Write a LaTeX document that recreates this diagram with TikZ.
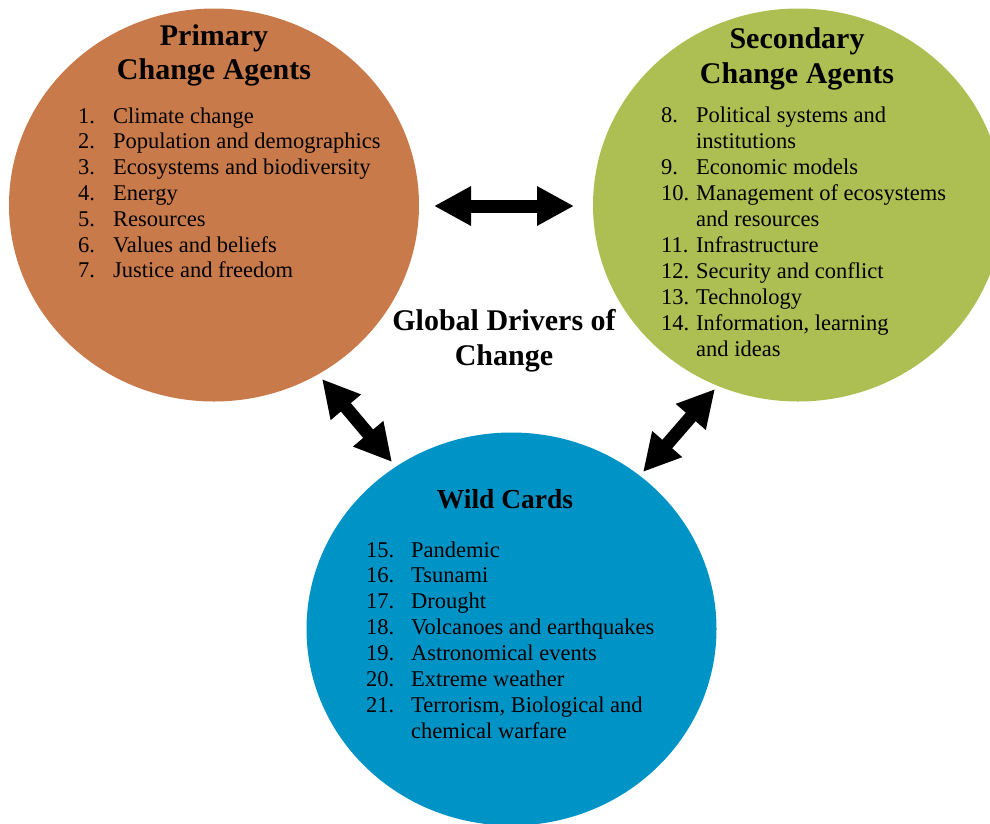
\documentclass[tikz,border=0pt]{standalone}
\usepackage{fontspec}
\setmainfont{Liberation Serif}
\usetikzlibrary{arrows.meta,shapes.geometric}
\definecolor{primcol}{RGB}{200,122,75}
\definecolor{seccol}{RGB}{173,191,82}
\definecolor{wildcol}{RGB}{0,148,198}
\begin{document}
\begin{tikzpicture}[x=1pt,y=-1pt,
 blob/.style={ellipse, inner sep=0pt, minimum width=410pt, minimum height=393pt},
 ttl/.style={font=\fontsize{30}{35}\selectfont\bfseries, anchor=base, inner sep=0pt},
 itm/.style={font=\fontsize{22.5}{26}\selectfont, anchor=base west, inner sep=0pt},
 dbl/.style={line width=13pt, {Triangle[length=37pt,width=37pt]}-{Triangle[length=37pt,width=37pt]}}
]
\useasboundingbox (0,0) rectangle (990,823);
\clip (0,0) rectangle (990,823);
\node[blob, fill=primcol] (prim) at (214,205) {};
\node[blob, fill=seccol] (sec) at (798,205) {};
\node[blob, fill=wildcol] (wild) at (511.5,629) {};

\node[ttl] (pt1) at (214,45) {Primary};
\node[ttl] (pt2) at (214,79) {Change Agents};
\node[ttl] (st1) at (797,48) {Secondary};
\node[ttl] (st2) at (797,83) {Change Agents};
\node[ttl, font=\fontsize{27.5}{32}\selectfont\bfseries] (wt1) at (505,508) {Wild Cards};
\node[ttl] (gt1) at (504,330) {Global Drivers of};
\node[ttl] (gt2) at (504,365) {Change};

\foreach \n/\t [count=\i from 0] in {1./Climate change, 2./Population and demographics, 3./Ecosystems and biodiversity, 4./Energy, 5./Resources, 6./Values and beliefs, 7./Justice and freedom}{
  \node[itm] (pn\i) at (78,{123+25.8*\i}) {\n};
  \node[itm] (pi\i) at (113,{123+25.8*\i}) {\t};
}
\foreach \n/\t [count=\i from 0] in {8./Political systems and, /institutions, 9./Economic models, 10./Management of ecosystems, /and resources, 11./Infrastructure, 12./Security and conflict, 13./Technology, 14./{Information, learning}, /and ideas}{
  \node[itm] (sn\i) at (661,{122+26*\i}) {\n};
  \node[itm] (si\i) at (696,{122+26*\i}) {\t};
}
\foreach \n/\t [count=\i from 0] in {15./Pandemic, 16./Tsunami, 17./Drought, 18./Volcanoes and earthquakes, 19./Astronomical events, 20./Extreme weather, 21./{Terrorism, Biological and}, /chemical warfare}{
  \node[itm] (wn\i) at (366,{557+25.9*\i}) {\n};
  \node[itm] (wi\i) at (411,{557+25.9*\i}) {\t};
}

\coordinate (h1) at (434,206);
\coordinate (h2) at (574,206);
\coordinate (l1) at (322,379);
\coordinate (l2) at (392,462);
\coordinate (r1) at (715,389);
\coordinate (r2) at (643,472);
\draw[dbl] (h1) -- (h2);
\draw[dbl] (l1) -- (l2);
\draw[dbl] (r1) -- (r2);
\end{tikzpicture}
\end{document}
